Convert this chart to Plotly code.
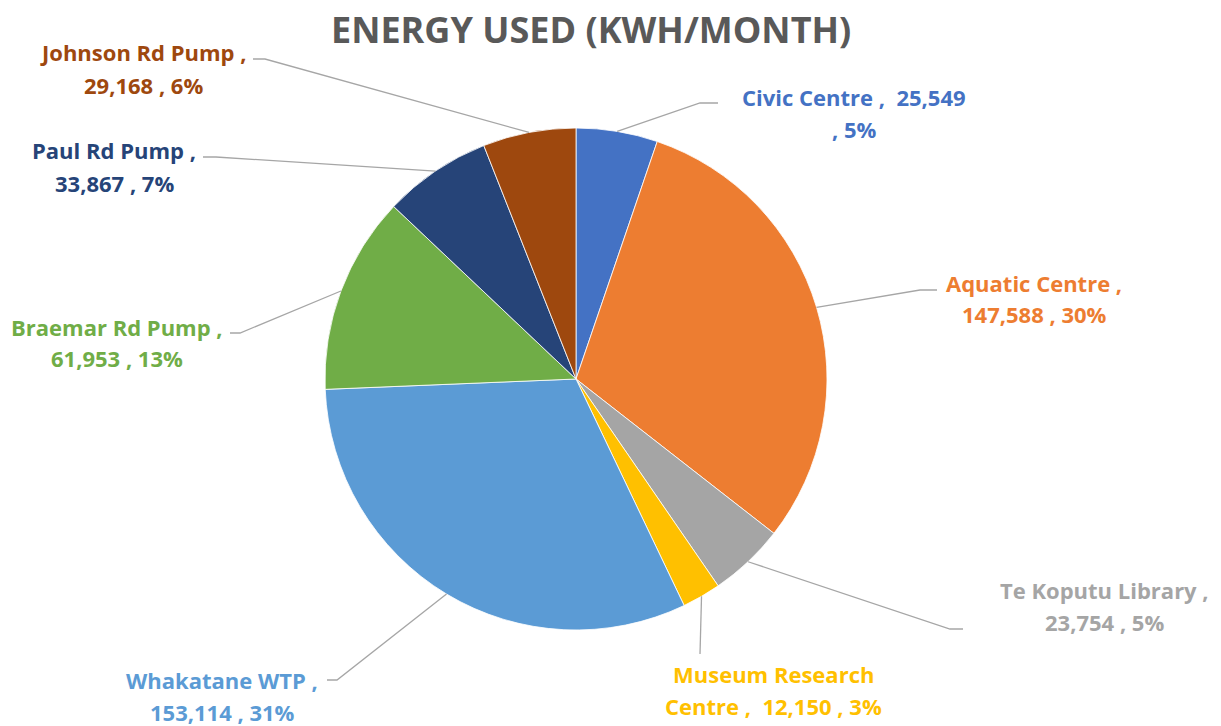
import numpy as np
import plotly.graph_objects as go

categories = ["Civic Centre", "Aquatic Centre", "Te Koputu Library", "Museum Research Centre",
              "Whakatane WTP", "Braemar Rd Pump", "Paul Rd Pump", "Johnson Rd Pump"]
values = [25549, 147588, 23754, 12150, 153114, 61953, 33867, 29168]
percents = ["5%", "30%", "5%", "3%", "31%", "13%", "7%", "6%"]
colors = ["#4472C4", "#ED7D31", "#A5A5A5", "#FFC000", "#5B9BD5", "#70AD47", "#264478", "#9E480E"]
label_lines = [
    ("Civic Centre ,  25,549", ", 5%"),
    ("Aquatic Centre ,", "147,588 , 30%"),
    ("Te Koputu Library ,", "23,754 , 5%"),
    ("Museum Research", "Centre ,  12,150 , 3%"),
    ("Whakatane WTP ,", "153,114 , 31%"),
    ("Braemar Rd Pump ,", "61,953 , 13%"),
    ("Paul Rd Pump ,", "33,867 , 7%"),
    ("Johnson Rd Pump ,", "29,168 , 6%"),
]

W, H = 1221, 726
cx, cy, R = 576, 379, 251

# label layout in pixels: (center_x, line1_y, line2_y, elbow_x, elbow_y, end_x, end_y)
label_layout = [
    (854, 97, 129, 700, 103, 718, 103),
    (1034, 283, 314, 920, 290, 937, 290),
    (1104, 590, 622, 950, 629, 963, 629),
    (773, 674, 706, 700, 654, 700, 654),
    (222, 680, 712, 337, 680, 327, 680),
    (117, 327, 358, 240, 333, 230, 333),
    (114, 150, 183, 216, 157, 203, 157),
    (143, 52, 85, 265, 59, 253, 59),
]

def px(x):
    return x / W

def py(y):
    return 1 - y / H

fig = go.Figure(go.Pie(
    labels=categories, values=values, sort=False, direction="clockwise", rotation=0,
    marker=dict(colors=colors, line=dict(color="white", width=0.8)),
    textinfo="none", hoverinfo="label+value+percent",
    domain=dict(x=[px(cx - R), px(cx + R)], y=[py(cy + R), py(cy - R)]),
    showlegend=False,
))

vals = np.array(values, dtype=float)
cum = np.cumsum(vals) - vals / 2
mid_angles = cum / vals.sum() * 2 * np.pi

shapes, annotations = [], []
for i, (ang, lay) in enumerate(zip(mid_angles, label_layout)):
    lx, y1, y2, ex, ey, tx, ty = lay
    sx = cx + R * np.sin(ang)
    sy = cy - R * np.cos(ang)
    path = f"M {px(sx)} {py(sy)} L {px(ex)} {py(ey)} L {px(tx)} {py(ty)}"
    shapes.append(dict(type="path", xref="paper", yref="paper", path=path,
                       line=dict(color="#A6A6A6", width=1.3)))
    for text, yy in zip(label_lines[i], (y1, y2)):
        annotations.append(dict(
            x=px(lx), y=py(yy), xref="paper", yref="paper", text=text,
            showarrow=False, xanchor="center", yanchor="middle",
            font=dict(family="Open Sans", size=22, color=colors[i], weight="bold"),
        ))

annotations.append(dict(
    x=px(591), y=py(30), xref="paper", yref="paper", text="ENERGY USED (KWH/MONTH)",
    showarrow=False, xanchor="center", yanchor="middle",
    font=dict(family="Open Sans", size=36, color="#595959", weight="bold"),
))

fig.update_layout(
    width=W, height=H, margin=dict(l=0, r=0, t=0, b=0),
    paper_bgcolor="white", plot_bgcolor="white",
    shapes=shapes, annotations=annotations,
)

fig.write_html("out.html", config={"displayModeBar": False},
               post_script="document.body.style.margin='0px';")
